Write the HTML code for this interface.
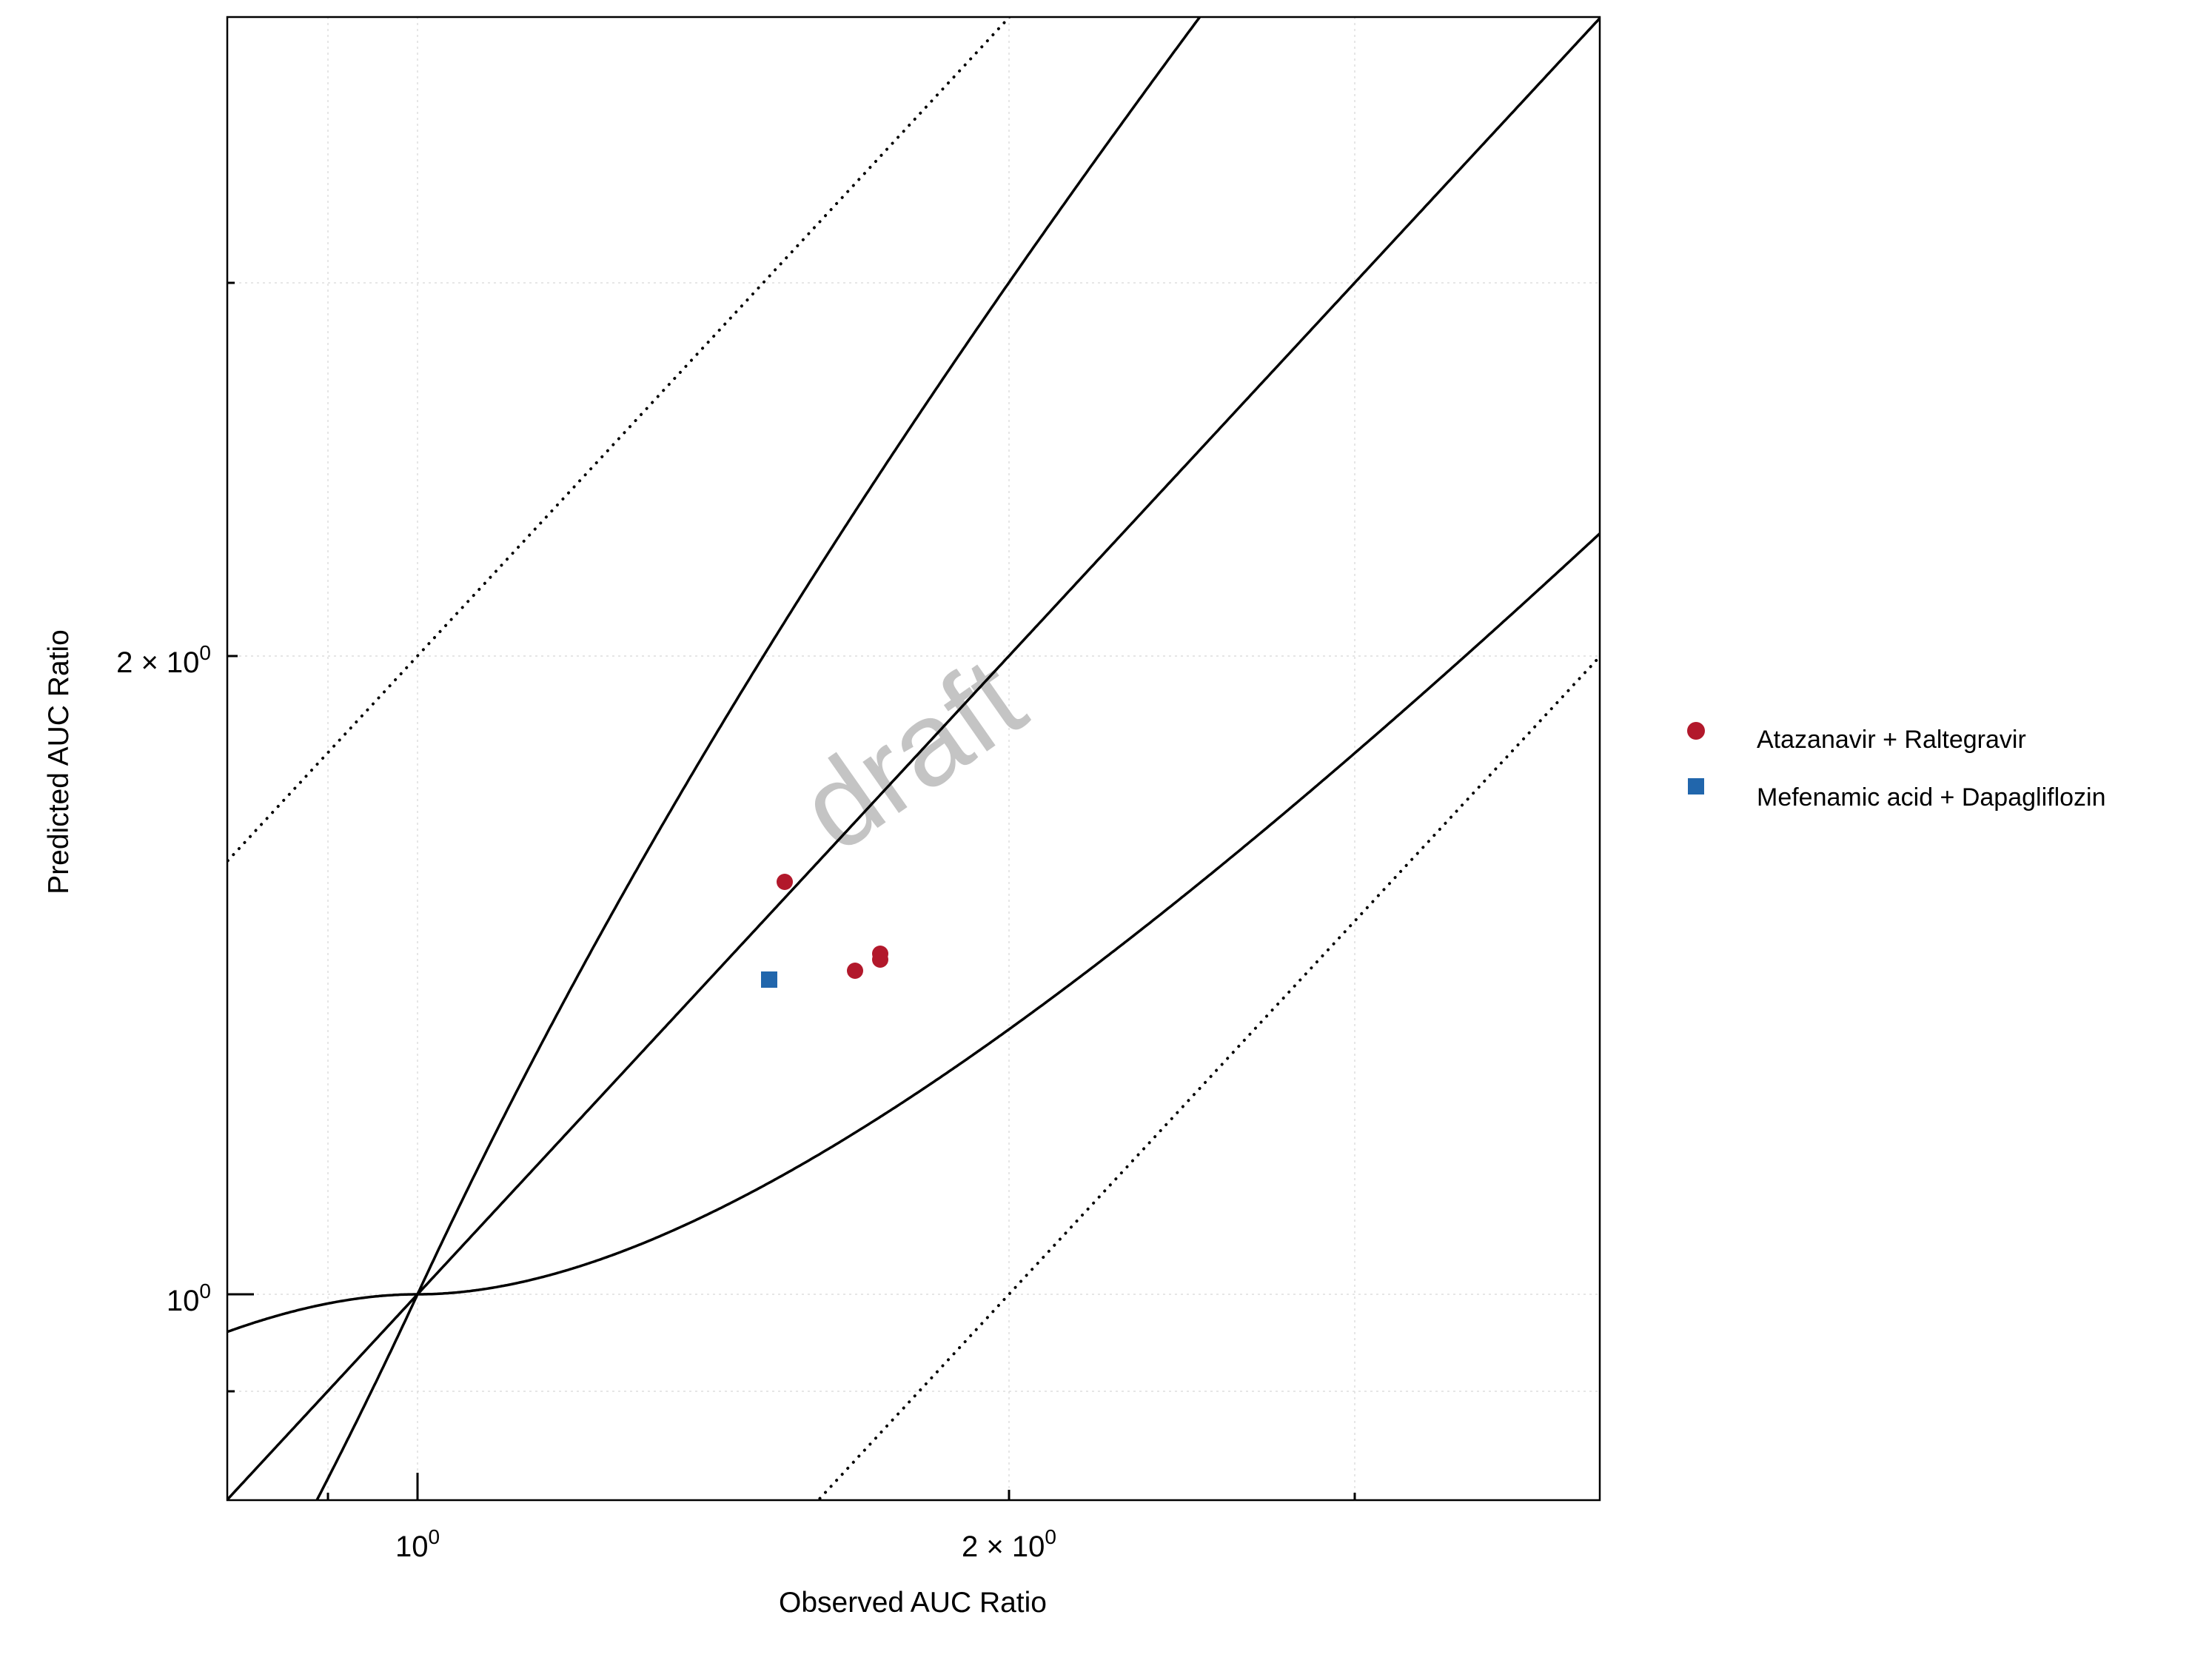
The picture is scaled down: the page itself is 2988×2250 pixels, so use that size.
<!DOCTYPE html>
<html><head><meta charset="utf-8"><style>
html,body{margin:0;padding:0;background:#fff;width:2988px;height:2250px;overflow:hidden;}
svg{display:block;font-family:"Liberation Sans","DejaVu Sans",sans-serif;}
</style></head><body>
<svg id="s" width="2988" height="2250" xmlns="http://www.w3.org/2000/svg">
<defs><clipPath id="c"><rect x="307" y="23" width="1854" height="2003"/></clipPath></defs>
<rect width="2988" height="2250" fill="#fff"/>
<g stroke="#ddd" stroke-width="1.5" stroke-dasharray="3 5">
<line x1="443" y1="23" x2="443" y2="2026"/><line x1="564" y1="23" x2="564" y2="2026"/>
<line x1="1363" y1="23" x2="1363" y2="2026"/><line x1="1830" y1="23" x2="1830" y2="2026"/>
<line x1="307" y1="1879" x2="2161" y2="1879"/><line x1="307" y1="1748" x2="2161" y2="1748"/>
<line x1="307" y1="886" x2="2161" y2="886"/><line x1="307" y1="382" x2="2161" y2="382"/>
</g>
<text x="1239" y="1029" transform="rotate(-35 1239 1029)" text-anchor="middle" dominant-baseline="middle" font-size="160" fill="#c4c4c4">draft</text>
<g id="lines" clip-path="url(#c)" fill="none" stroke="#000" stroke-width="3.5"></g>
<rect x="307" y="23" width="1854" height="2003" fill="none" stroke="#000" stroke-width="2.5"/>
<g stroke="#000" stroke-width="3">
<line x1="564" y1="2026" x2="564" y2="1989"/><line x1="1363" y1="2026" x2="1363" y2="2012"/>
<line x1="443" y1="2026" x2="443" y2="2016"/><line x1="1830" y1="2026" x2="1830" y2="2016"/>
<line x1="307" y1="1748" x2="343" y2="1748"/><line x1="307" y1="886" x2="321" y2="886"/>
<line x1="307" y1="1879" x2="317" y2="1879"/><line x1="307" y1="382" x2="317" y2="382"/>
</g>
<g font-size="40" fill="#000">
<text x="564" y="2102" text-anchor="middle">10<tspan dy="-17" font-size="28">0</tspan></text>
<text x="1363" y="2102" text-anchor="middle">2 × 10<tspan dy="-17" font-size="28">0</tspan></text>
<text x="285" y="1770" text-anchor="end">10<tspan dy="-17" font-size="28">0</tspan></text>
<text x="285" y="908" text-anchor="end">2 × 10<tspan dy="-17" font-size="28">0</tspan></text>
<text x="1233" y="2177" text-anchor="middle" font-size="39">Observed AUC Ratio</text>
<text x="92" y="1029" text-anchor="middle" font-size="39" transform="rotate(-90 92 1029)">Predicted AUC Ratio</text>
</g>
<g fill="#b2182b">
<circle cx="1060" cy="1191" r="11"/><circle cx="1155" cy="1311" r="11"/>
<circle cx="1189" cy="1288" r="11"/><circle cx="1189" cy="1296" r="11"/>
<circle cx="2291" cy="987" r="12"/>
</g>
<g fill="#2166ac"><rect x="1028" y="1312" width="22" height="22"/><rect x="2280" y="1051" width="22" height="22"/></g>
<g font-size="34" fill="#000">
<text x="2373" y="1010">Atazanavir + Raltegravir</text>
<text x="2373" y="1088">Mefenamic acid + Dapagliflozin</text>
</g>
</svg>
<script>
var X=function(x){return 564+2654*Math.log10(x)},Y=function(y){return 1748-2864*Math.log10(y)};
function path(f,dash){var d="";for(var i=0;i<=800;i++){var x=0.78*Math.pow(4.2/0.78,i/800);var y=f(x);d+=(i?"L":"M")+X(x).toFixed(1)+" "+Y(y).toFixed(1);}
var p=document.createElementNS("http://www.w3.org/2000/svg","path");p.setAttribute("d",d);if(dash){p.setAttribute("stroke-dasharray","0.1 11");p.setAttribute("stroke-linecap","round");p.setAttribute("stroke-width","4");}document.getElementById("lines").appendChild(p);}
function lim(r){return (1+2*(r-1))/r;}
path(function(x){return x;});
path(function(x){return 2*x;},1);
path(function(x){return x/2;},1);
path(function(x){return x>=1?x*lim(x):x/lim(1/x);});
path(function(x){return x>=1?x/lim(x):x*lim(1/x);});
</script>
</body></html>
